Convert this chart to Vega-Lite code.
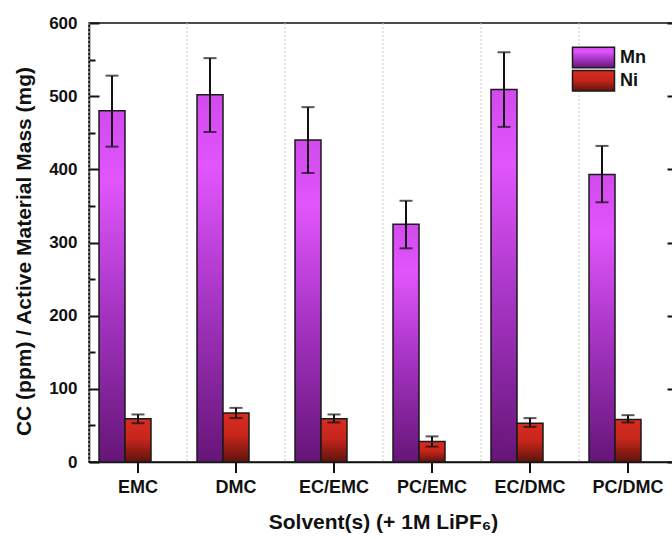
{
  "$schema": "https://vega.github.io/schema/vega-lite/v6.json",
  "width": 588,
  "height": 439,
  "autosize": {"type": "none"},
  "padding": {"left": 89, "top": 23, "right": -5, "bottom": 77},
  "background": "white",
  "config": {
    "font": "Liberation Sans",
    "view": {"stroke": "#111", "strokeWidth": 1.5},
    "axis": {"grid": false}
  },
  "datasets": {
    "cats": [
      {"solvent": "EMC"}, {"solvent": "DMC"}, {"solvent": "EC/EMC"},
      {"solvent": "PC/EMC"}, {"solvent": "EC/DMC"}, {"solvent": "PC/DMC"}
    ],
    "vals": [
      {"solvent": "EMC", "series": "Mn", "value": 480, "lo": 431, "hi": 528},
      {"solvent": "EMC", "series": "Ni", "value": 59, "lo": 53, "hi": 65},
      {"solvent": "DMC", "series": "Mn", "value": 502, "lo": 451, "hi": 552},
      {"solvent": "DMC", "series": "Ni", "value": 67, "lo": 60, "hi": 74},
      {"solvent": "EC/EMC", "series": "Mn", "value": 440, "lo": 395, "hi": 485},
      {"solvent": "EC/EMC", "series": "Ni", "value": 59, "lo": 54, "hi": 65},
      {"solvent": "PC/EMC", "series": "Mn", "value": 325, "lo": 292, "hi": 357},
      {"solvent": "PC/EMC", "series": "Ni", "value": 28, "lo": 21, "hi": 35},
      {"solvent": "EC/DMC", "series": "Mn", "value": 509, "lo": 458, "hi": 560},
      {"solvent": "EC/DMC", "series": "Ni", "value": 53, "lo": 48, "hi": 60},
      {"solvent": "PC/DMC", "series": "Mn", "value": 393, "lo": 355, "hi": 432},
      {"solvent": "PC/DMC", "series": "Ni", "value": 58, "lo": 54, "hi": 64}
    ]
  },
  "resolve": {
    "axis": {"y": "independent", "x": "independent"},
    "scale": {"stroke": "independent"},
    "legend": {"stroke": "independent"}
  },
  "layer": [
    {
      "data": {"name": "cats"},
      "mark": {"type": "rule", "color": "#c8c8c8", "strokeDash": [2, 2], "strokeWidth": 1},
      "encoding": {
        "x": {"field": "solvent", "type": "nominal", "bandPosition": 0,
              "scale": {"domain": ["EMC", "DMC", "EC/EMC", "PC/EMC", "EC/DMC", "PC/DMC"], "paddingInner": 0, "paddingOuter": 0},
              "axis": null}
      }
    },
    {
      "data": {"name": "cats"},
      "mark": {"type": "rule", "color": "#111", "strokeWidth": 2, "clip": false},
      "encoding": {
        "x": {"field": "solvent", "type": "nominal",
              "scale": {"domain": ["EMC", "DMC", "EC/EMC", "PC/EMC", "EC/DMC", "PC/DMC"], "paddingInner": 0, "paddingOuter": 0},
              "axis": null},
        "y": {"datum": 0, "type": "quantitative", "scale": {"domain": [0, 600], "nice": false}, "axis": null},
        "y2": {"datum": -15}
      }
    },
    {
      "data": {"name": "vals"},
      "transform": [{"filter": "datum.series === 'Mn'"}],
      "mark": {"type": "bar", "strokeWidth": 1.5,
        "fill": {"gradient": "linear", "x1": 0, "y1": 0, "x2": 0, "y2": 1,
          "stops": [{"offset": 0, "color": "#d24aee"}, {"offset": 0.2, "color": "#e155fc"}, {"offset": 0.55, "color": "#a836c6"}, {"offset": 1, "color": "#661578"}]}},
      "encoding": {
        "x": {
          "field": "solvent", "type": "nominal",
          "scale": {"domain": ["EMC", "DMC", "EC/EMC", "PC/EMC", "EC/DMC", "PC/DMC"], "paddingInner": 0, "paddingOuter": 0},
          "axis": {
            "orient": "bottom",
            "title": "Solvent(s) (+ 1M LiPF₆)",
            "titleFont": "Liberation Sans", "titleFontSize": 21, "titleFontWeight": "bold", "titleColor": "#111",
            "titlePadding": 15,
            "labelAngle": 0, "labelAlign": "center", "labelBaseline": "top",
            "labelFont": "Liberation Sans", "labelFontSize": 18, "labelFontWeight": "bold", "labelColor": "#111",
            "labelPadding": 16, "ticks": false, "tickSize": 0,
            "domainColor": "#111", "domainWidth": 1.5
          }
        },
        "xOffset": {"field": "series", "type": "nominal",
                    "scale": {"domain": ["Mn", "Ni", "pad"], "paddingInner": 0, "paddingOuter": 0.385}},
        "y": {
          "field": "value", "type": "quantitative",
          "scale": {"domain": [0, 600], "nice": false},
          "axis": {
            "orient": "left",
            "values": [0, 100, 200, 300, 400, 500, 600],
            "title": "CC (ppm) / Active Material Mass (mg)",
            "titleFont": "Liberation Sans", "titleFontSize": 21, "titleFontWeight": "bold", "titleColor": "#111",
            "titlePadding": 11, "minExtent": 44, "maxExtent": 44, "titleY": 228,
            "labelFont": "Liberation Sans", "labelFontSize": 17, "labelFontWeight": "bold", "labelColor": "#111",
            "labelPadding": 12, "ticks": false, "tickSize": 0,
            "domainColor": "#111", "domainWidth": 1.5
          }
        },
        "stroke": {
          "field": "series", "type": "nominal",
          "scale": {"domain": ["Mn"], "range": ["#1a1a1a"]},
          "legend": {
            "orient": "none", "legendX": 493, "legendY": 23, "title": null,
            "symbolType": "M-2,-0.98H2V0.98H-2Z", "symbolSize": 441,
            "symbolStrokeWidth": 1.5,
            "labelFont": "Liberation Sans", "labelFontSize": 18, "labelFontWeight": "bold", "labelColor": "#111",
            "labelOffset": 15, "padding": 0
          }
        }
      }
    },
    {
      "data": {"name": "vals"},
      "transform": [{"filter": "datum.series === 'Ni'"}],
      "mark": {"type": "bar", "strokeWidth": 1.5,
        "fill": {"gradient": "linear", "x1": 0, "y1": 0, "x2": 0, "y2": 1,
          "stops": [{"offset": 0, "color": "#d62c22"}, {"offset": 0.45, "color": "#c8261b"}, {"offset": 1, "color": "#5e130d"}]}},
      "encoding": {
        "x": {"field": "solvent", "type": "nominal",
              "scale": {"domain": ["EMC", "DMC", "EC/EMC", "PC/EMC", "EC/DMC", "PC/DMC"], "paddingInner": 0, "paddingOuter": 0},
              "axis": null},
        "xOffset": {"field": "series", "type": "nominal",
                    "scale": {"domain": ["Mn", "Ni", "pad"], "paddingInner": 0, "paddingOuter": 0.385}},
        "y": {"field": "value", "type": "quantitative", "scale": {"domain": [0, 600], "nice": false}, "axis": null},
        "stroke": {
          "field": "series", "type": "nominal",
          "scale": {"domain": ["Ni"], "range": ["#1a1a1a"]},
          "legend": {
            "orient": "none", "legendX": 493, "legendY": 46.3, "title": null,
            "symbolType": "M-2,-0.98H2V0.98H-2Z", "symbolSize": 441,
            "symbolStrokeWidth": 1.5,
            "labelFont": "Liberation Sans", "labelFontSize": 18, "labelFontWeight": "bold", "labelColor": "#111",
            "labelOffset": 15, "padding": 0
          }
        }
      }
    },
    {
      "data": {"name": "vals"},
      "mark": {"type": "rule", "color": "#111", "strokeWidth": 2},
      "encoding": {
        "x": {"field": "solvent", "type": "nominal",
              "scale": {"domain": ["EMC", "DMC", "EC/EMC", "PC/EMC", "EC/DMC", "PC/DMC"], "paddingInner": 0, "paddingOuter": 0},
              "axis": null},
        "xOffset": {"field": "series", "type": "nominal",
                    "scale": {"domain": ["Mn", "Ni", "pad"], "paddingInner": 0, "paddingOuter": 0.385}},
        "y": {"field": "lo", "type": "quantitative", "scale": {"domain": [0, 600], "nice": false},
              "axis": {"orient": "left", "values": [0, 100, 200, 300, 400, 500, 600], "labels": false, "domain": false,
                       "tickSize": -10, "tickWidth": 2, "tickColor": "#111", "title": null}},
        "y2": {"field": "hi"}
      }
    },
    {
      "data": {"name": "vals"},
      "mark": {"type": "tick", "color": "#111", "size": 13, "thickness": 2},
      "encoding": {
        "x": {"field": "solvent", "type": "nominal",
              "scale": {"domain": ["EMC", "DMC", "EC/EMC", "PC/EMC", "EC/DMC", "PC/DMC"], "paddingInner": 0, "paddingOuter": 0},
              "axis": null},
        "xOffset": {"field": "series", "type": "nominal",
                    "scale": {"domain": ["Mn", "Ni", "pad"], "paddingInner": 0, "paddingOuter": 0.385}},
        "y": {"field": "hi", "type": "quantitative", "scale": {"domain": [0, 600], "nice": false},
              "axis": {"orient": "left", "values": [50, 150, 250, 350, 450, 550], "labels": false, "domain": false,
                       "tickSize": -6, "tickWidth": 2, "tickColor": "#111", "title": null}}
      }
    },
    {
      "data": {"name": "vals"},
      "mark": {"type": "tick", "color": "#111", "size": 13, "thickness": 2},
      "encoding": {
        "x": {"field": "solvent", "type": "nominal",
              "scale": {"domain": ["EMC", "DMC", "EC/EMC", "PC/EMC", "EC/DMC", "PC/DMC"], "paddingInner": 0, "paddingOuter": 0},
              "axis": null},
        "xOffset": {"field": "series", "type": "nominal",
                    "scale": {"domain": ["Mn", "Ni", "pad"], "paddingInner": 0, "paddingOuter": 0.385}},
        "y": {"field": "lo", "type": "quantitative", "scale": {"domain": [0, 600], "nice": false},
              "axis": {"orient": "right", "values": [0, 100, 200, 300, 400, 500, 600], "labels": false, "domain": false,
                       "tickSize": -10, "tickWidth": 2, "tickColor": "#111", "title": null}}
      }
    }
  ]
}
